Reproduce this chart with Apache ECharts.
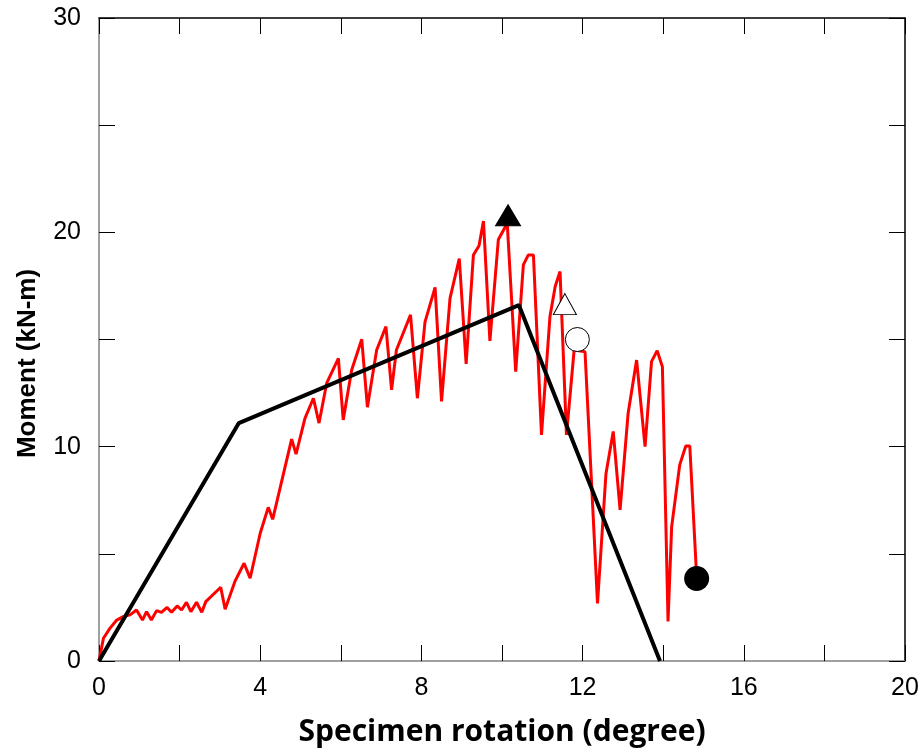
<!DOCTYPE html>
<html>
<head>
<meta charset="utf-8">
<script src="https://cdn.jsdelivr.net/npm/echarts@6/dist/echarts.min.js"></script>
<style>
  html, body { margin: 0; padding: 0; background: #fff; }
  #chart { width: 924px; height: 756px; }
</style>
</head>
<body>
<div id="chart"></div>
<script>
"use strict";

// measured hysteresis response (rotation in degree, moment in kN-m)
var testRotation = [0, 0.11, 0.27, 0.44, 0.60, 0.77, 0.93, 1.08, 1.18, 1.30, 1.43, 1.55, 1.69, 1.80, 1.94,
	2.05, 2.17, 2.28, 2.42, 2.55, 2.65, 3.02, 3.13, 3.37, 3.60, 3.75, 4.00, 4.20, 4.31, 4.78, 4.89,
	5.11, 5.32, 5.46, 5.65, 5.94, 6.06, 6.27, 6.52, 6.66, 6.89, 7.12, 7.26, 7.38, 7.73, 7.90, 8.09,
	8.34, 8.50, 8.71, 8.94, 9.11, 9.29, 9.43, 9.54, 9.70, 9.91, 10.13, 10.34, 10.53, 10.65, 10.78,
	10.98, 11.19, 11.32, 11.44, 11.60, 11.79, 12.06, 12.37, 12.58, 12.76, 12.93, 13.13, 13.34, 13.55,
	13.71, 13.85, 13.98, 14.12, 14.21, 14.41, 14.56, 14.66, 14.83];
var testMoment = [0, 1.06, 1.52, 1.91, 2.07, 2.15, 2.38, 1.91, 2.30, 1.91, 2.35, 2.27, 2.50, 2.27, 2.57,
	2.38, 2.74, 2.30, 2.74, 2.27, 2.77, 3.44, 2.42, 3.70, 4.56, 3.86, 5.96, 7.17, 6.61, 10.35, 9.65,
	11.32, 12.26, 11.10, 12.96, 14.12, 11.25, 13.58, 15.01, 11.84, 14.51, 15.60, 12.65, 14.51, 16.15, 12.26, 15.82,
	17.43, 12.11, 16.92, 18.78, 13.86, 18.94, 19.37, 20.53, 14.93, 19.67, 20.42, 13.50, 18.48, 18.94, 18.94,
	10.55, 16.07, 17.47, 18.17, 10.55, 14.51, 14.43, 2.69, 8.74, 10.71, 7.05, 11.56, 14.04, 10.00,
	13.97, 14.48, 13.73, 1.84, 6.27, 9.15, 10.03, 10.03, 3.93];

// backbone (trilinear) model
var modelRotation = [0, 3.47, 10.42, 13.92];
var modelMoment = [0, 11.1, 16.6, 0];

// key points: peak, yield, 80% and failure
var peakPoint = [10.15, 20.8];
var openTrianglePoint = [11.56, 16.65];
var openCirclePoint = [11.87, 15.0];
var failurePoint = [14.83, 3.85];

var X_TICKS = 2, X_LABEL_STEP = 4;
var Y_TICKS = 5, Y_LABEL_STEP = 10;

function pairs(xs, ys) {
	var out = [];
	for (var i = 0; i < xs.length; i++) out.push([xs[i], ys[i]]);
	return out;
}

var chart = echarts.init(document.getElementById('chart'));

function axisBase(pos, min, max, step, labelStep, showLabel, lineColor) {
	return {
		type: 'value',
		position: pos,
		min: min,
		max: max,
		interval: step,
		splitLine: { show: false },
		axisLine: { show: true, onZero: false, lineStyle: { color: lineColor, width: 1.5 } },
		axisTick: { show: true, inside: true, length: 16, lineStyle: { color: '#000', width: 1 } },
		axisLabel: {
			show: showLabel,
			margin: 18,
			fontFamily: 'Liberation Sans',
			fontSize: 25,
			color: '#000',
			formatter: function(v) { return (v % labelStep === 0) ? String(v) : ''; }
		}
	};
}

var xBottom = axisBase('bottom', 0, 20, X_TICKS, X_LABEL_STEP, true, '#808080');
xBottom.axisLabel.margin = 15;
xBottom.name = 'Specimen rotation (degree)';
xBottom.nameLocation = 'middle';
xBottom.nameGap = 56;
xBottom.nameTextStyle = { fontFamily: 'Open Sans', fontWeight: 'bold', fontSize: 30, color: '#000' };

var xTop = axisBase('top', 0, 20, X_TICKS, X_LABEL_STEP, false, '#000');

var yLeft = axisBase('left', 0, 30, Y_TICKS, Y_LABEL_STEP, true, '#808080');
yLeft.name = 'Moment (kN-m)';
yLeft.nameLocation = 'middle';
yLeft.nameGap = 58;
yLeft.nameTextStyle = {
	fontFamily: 'Liberation Sans', fontWeight: 'bold', fontSize: 26, color: '#000',
	padding: [0, 48, 0, 0]
};

var yRight = axisBase('right', 0, 30, Y_TICKS, Y_LABEL_STEP, false, '#000');

chart.setOption({
	animation: false,
	backgroundColor: '#fff',
	grid: { left: 99, right: 19, top: 18, bottom: 95, containLabel: false },
	xAxis: [xBottom, xTop],
	yAxis: [yLeft, yRight],
	series: [{
		name: 'Test',
		type: 'line',
		xAxisIndex: 0,
		yAxisIndex: 0,
		showSymbol: false,
		symbol: 'none',
		lineStyle: { color: '#ff0000', width: 3 },
		data: pairs(testRotation, testMoment),
		z: 2
	}, {
		name: 'Model',
		type: 'line',
		xAxisIndex: 0,
		yAxisIndex: 0,
		symbol: 'none',
		lineStyle: { color: '#000', width: 4 },
		data: pairs(modelRotation, modelMoment),
		z: 3
	}, {
		name: 'Peak',
		type: 'scatter',
		symbol: 'triangle',
		symbolSize: [25, 21],
		itemStyle: { color: '#000', borderColor: '#000', borderWidth: 1, opacity: 1 },
		data: [peakPoint],
		z: 5
	}, {
		name: 'Open triangle',
		type: 'scatter',
		symbol: 'triangle',
		symbolSize: [23, 21],
		itemStyle: { color: '#fff', borderColor: '#000', borderWidth: 1, opacity: 1 },
		data: [openTrianglePoint],
		z: 5
	}, {
		name: 'Open circle',
		type: 'scatter',
		symbol: 'circle',
		symbolSize: 24,
		itemStyle: { color: '#fff', borderColor: '#000', borderWidth: 1, opacity: 1 },
		data: [openCirclePoint],
		z: 5
	}, {
		name: 'Failure',
		type: 'scatter',
		symbol: 'circle',
		symbolSize: 25,
		itemStyle: { color: '#000', opacity: 1 },
		data: [failurePoint],
		z: 5
	}]
});
</script>
</body>
</html>
